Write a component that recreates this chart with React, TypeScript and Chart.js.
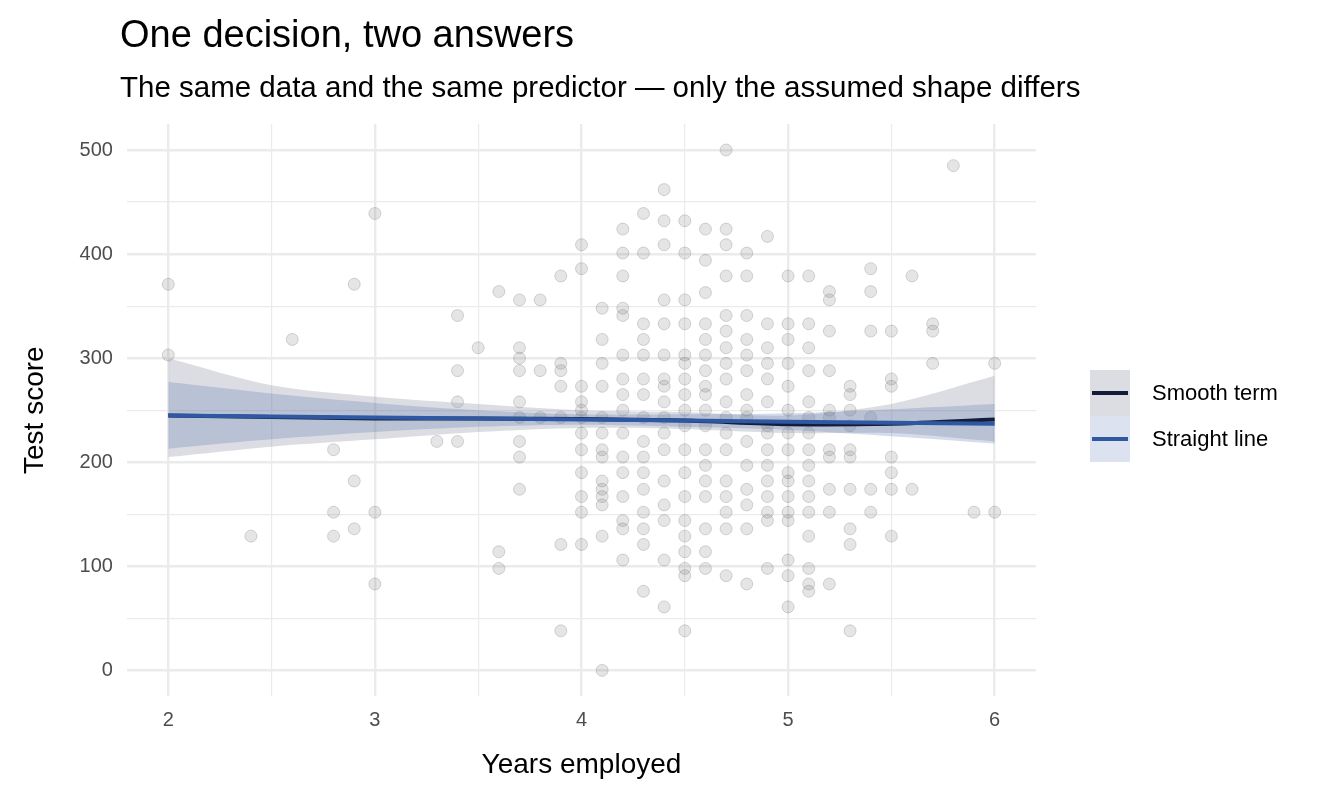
import React, { useEffect, useRef } from "react";
import { Chart, registerables } from "chart.js";
Chart.register(...registerables);

const columns: [number, number[]][] = [
  [2.0, [371, 303]],
  [2.4, [129]],
  [2.6, [318]],
  [2.8, [212, 152, 129]],
  [2.9, [371, 182, 136]],
  [3.0, [439, 152, 83]],
  [3.3, [220]],
  [3.4, [341, 288, 258, 220]],
  [3.5, [310]],
  [3.6, [364, 114, 98]],
  [3.7, [356, 310, 300, 288, 258, 243, 220, 205, 174]],
  [3.8, [356, 288, 243]],
  [3.9, [379, 295, 288, 273, 243, 121, 38]],
  [4.0, [409, 386, 273, 258, 250, 243, 228, 212, 190, 167, 152, 121]],
  [4.1, [348, 318, 295, 273, 243, 228, 212, 205, 182, 174, 167, 159, 129, 0]],
  [4.2, [424, 401, 379, 348, 341, 303, 280, 265, 250, 228, 205, 190, 167, 144, 136, 106]],
  [4.3, [439, 401, 333, 318, 303, 280, 265, 243, 220, 205, 190, 174, 152, 136, 121, 76]],
  [4.4, [462, 432, 409, 356, 333, 303, 280, 273, 258, 243, 228, 212, 182, 159, 144, 106, 61]],
  [4.5, [432, 401, 356, 333, 303, 295, 280, 265, 250, 235, 212, 190, 167, 144, 129, 114, 98, 91, 38]],
  [4.6, [424, 394, 363, 333, 318, 303, 288, 273, 265, 250, 235, 212, 197, 182, 167, 136, 114, 98]],
  [4.7, [500, 424, 409, 379, 341, 326, 310, 295, 280, 258, 243, 228, 212, 182, 167, 152, 136, 91]],
  [4.8, [401, 379, 341, 318, 303, 288, 265, 250, 243, 220, 197, 174, 159, 136, 83]],
  [4.9, [417, 333, 310, 295, 280, 258, 235, 228, 212, 197, 182, 167, 152, 144, 98]],
  [5.0, [379, 333, 318, 295, 273, 250, 228, 212, 190, 182, 167, 152, 144, 106, 91, 61]],
  [5.1, [379, 333, 310, 288, 258, 243, 228, 212, 197, 182, 167, 152, 129, 98, 83, 76]],
  [5.2, [364, 356, 326, 288, 250, 243, 212, 205, 174, 152, 83]],
  [5.3, [273, 265, 250, 235, 212, 205, 174, 136, 121, 38]],
  [5.4, [386, 364, 326, 243, 174, 152]],
  [5.5, [326, 280, 273, 205, 190, 174, 129]],
  [5.6, [379, 174]],
  [5.7, [333, 326, 295]],
  [5.8, [485]],
  [5.9, [152]],
  [6.0, [295, 152]],
];

const fitX = [2, 2.5, 3, 3.5, 4, 4.5, 5, 5.5, 6];
const smoothFit = [245, 243.5, 242, 242, 241.5, 240, 236.5, 237, 241];
const smoothLo = [205, 215, 222, 229, 233, 232, 228, 228, 220];
const smoothHi = [300, 274, 263, 256, 250, 248, 245, 256, 283];
const straightFit = [245, 244, 243, 242, 241, 240, 239, 238, 237];
const straightLo = [213, 222, 229, 234, 236, 234, 231, 225, 218];
const straightHi = [277, 266, 257, 250, 246, 246, 247, 251, 256];

const xTicks = [2, 2.5, 3, 3.5, 4, 4.5, 5, 5.5, 6];
const yTicks = [0, 50, 100, 150, 200, 250, 300, 350, 400, 450, 500];

const pts = (ys: number[]) => fitX.map((x, i) => ({ x, y: ys[i] }));

export default function App() {
  const ref = useRef<HTMLCanvasElement>(null);
  useEffect(() => {
    const scatter = columns.flatMap(([x, ys]) => ys.map((y) => ({ x, y })));
    const line = (data: any, color: string, w: number, order: number) => ({
      type: "line" as const, data, borderColor: color, borderWidth: w, pointRadius: 0, fill: false, order,
    });
    const band = (data: any, fillCol: string, order: number) => ({
      type: "line" as const, data, borderWidth: 0, borderColor: "transparent", pointRadius: 0, fill: "-1", backgroundColor: fillCol, tension: 0.3, order,
    });
    const c = new Chart(ref.current!, {
      type: "scatter",
      data: {
        datasets: [
          { type: "scatter", data: scatter, pointRadius: 6, backgroundColor: "rgba(110,110,110,0.18)", borderColor: "rgba(80,80,80,0.22)", borderWidth: 1, order: 5 },
          { ...line(pts(smoothLo), "transparent", 0, 4), tension: 0.3 },
          band(pts(smoothHi), "rgba(150,152,170,0.33)", 4),
          { ...line(pts(straightLo), "transparent", 0, 3), tension: 0.3 },
          band(pts(straightHi), "rgba(60,95,165,0.22)", 3),
          { ...line(pts(smoothFit), "#131d3b", 4, 1), tension: 0.3 },
          line(pts(straightFit), "#2f58a3", 4, 0),
        ] as any,
      },
      options: {
        animation: false,
        responsive: false,
        layout: { padding: { top: 124, right: 308, bottom: 20, left: 14 } },
        plugins: { legend: { display: false }, tooltip: { enabled: false } },
        scales: {
          x: {
            type: "linear", min: 1.8, max: 6.2,
            afterBuildTicks: (s: any) => { s.ticks = xTicks.map((v) => ({ value: v })); },
            ticks: { callback: (v: any) => (Number.isInteger(v) ? String(v) : ""), color: "#4d4d4d", font: { size: 20, family: "Liberation Sans, Arial" }, padding: 12 },
            grid: { color: "#ebebeb", lineWidth: (ctx: any) => (Number.isInteger(ctx.tick?.value) ? 2.4 : 1.2), drawTicks: false },
            border: { display: false },
            title: { display: true, text: "Years employed", color: "#000", font: { size: 28, family: "Liberation Sans, Arial" }, padding: { top: 4 } },
          },
          y: {
            min: -25, max: 525,
            afterBuildTicks: (s: any) => { s.ticks = yTicks.map((v) => ({ value: v })); },
            ticks: { callback: (v: any) => (v % 100 === 0 ? String(v) : ""), color: "#4d4d4d", font: { size: 20, family: "Liberation Sans, Arial" }, padding: 14 },
            grid: { color: "#ebebeb", lineWidth: (ctx: any) => (ctx.tick?.value % 100 === 0 ? 2.4 : 1.2), drawTicks: false },
            border: { display: false },
            title: { display: true, text: "Test score", color: "#000", font: { size: 28, family: "Liberation Sans, Arial" }, padding: { bottom: 14 } },
          },
        },
      },
    });
    return () => c.destroy();
  }, []);
  const font = "Liberation Sans, Arial, sans-serif";
  return (
    <div style={{ position: "absolute", left: 0, top: 0, width: 1344, height: 806, background: "#fff", fontFamily: font }}>
      <canvas ref={ref} width={1344} height={806} />
      <div style={{ position: "absolute", left: 120, top: 13, fontSize: 38, color: "#000" }}>One decision, two answers</div>
      <div style={{ position: "absolute", left: 120, top: 70, fontSize: 29.5, color: "#000" }}>The same data and the same predictor — only the assumed shape differs</div>
      <div style={{ position: "absolute", left: 1090, top: 370, fontSize: 22 }}>
        {[["#131d3b", "rgba(150,152,170,0.33)", "Smooth term"], ["#2f58a3", "rgba(60,95,165,0.18)", "Straight line"]].map(([lc, bg, t]) => (
          <div key={t} style={{ display: "flex", alignItems: "center", height: 46 }}>
            <div style={{ width: 40, height: 46, background: bg, position: "relative" }}>
              <div style={{ position: "absolute", left: 2, right: 2, top: 21, height: 4, background: lc }} />
            </div>
            <span style={{ marginLeft: 22 }}>{t}</span>
          </div>
        ))}
      </div>
    </div>
  );
}
